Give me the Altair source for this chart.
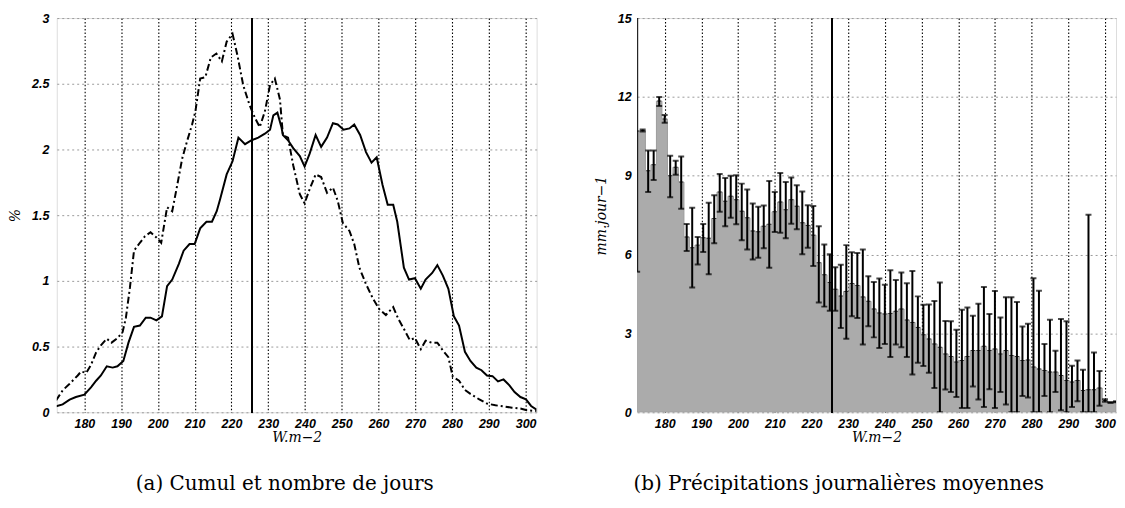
import altair as alt
import pandas as pd

X_DOMAIN = [172.5, 303]
X_TICKS = [180, 190, 200, 210, 220, 230, 240, 250, 260, 270, 280, 290, 300]
Y_TICKS_A = [0, 0.5, 1, 1.5, 2, 2.5, 3]
Y_TICKS_B = [0, 3, 6, 9, 12, 15]
THRESHOLD = 225.5

# ---- panel (a): cumul (solid) and nombre de jours (dash-dot), in %
solid_x = [172.3, 174.1, 176.0, 177.7, 180.0, 181.8, 183.2, 184.5, 186.1, 187.7, 189.0, 190.6, 192.0,
           193.5, 195.1, 196.7, 198.0, 199.6, 201.1, 202.5, 203.9, 205.7, 207.0, 208.6, 210.0, 211.5,
           213.2, 214.7, 216.0, 216.9, 218.7, 220.3, 221.9, 223.7, 225.5, 227.3, 229.1, 230.5, 231.4,
           232.5, 233.6, 234.0, 235.4, 236.8, 238.6, 239.9, 241.3, 242.9, 244.4, 246.0, 247.6, 248.9,
           250.5, 252.1, 253.4, 255.0, 256.6, 258.1, 259.5, 261.1, 262.5, 264.0, 265.1, 266.9, 268.3,
           269.9, 271.5, 272.8, 274.6, 276.0, 277.5, 279.0, 280.5, 281.9, 283.5, 285.0, 286.6, 288.0,
           289.5, 291.0, 292.5, 294.0, 295.6, 297.0, 298.6, 300.1, 301.5, 303.0]
solid_y = [0.045, 0.06, 0.096, 0.116, 0.134, 0.19, 0.24, 0.28, 0.35, 0.34, 0.35, 0.39, 0.53,
           0.65, 0.66, 0.72, 0.72, 0.70, 0.73, 0.96, 1.01, 1.13, 1.23, 1.28, 1.28, 1.40,
           1.45, 1.45, 1.53, 1.62, 1.81, 1.91, 2.09, 2.04, 2.07, 2.09, 2.12, 2.15, 2.26,
           2.28, 2.17, 2.11, 2.07, 2.01, 1.95, 1.87, 1.97, 2.11, 2.02, 2.09, 2.20, 2.19,
           2.15, 2.16, 2.19, 2.11, 1.98, 1.90, 1.94, 1.73, 1.58, 1.58, 1.45, 1.10, 1.01,
           1.02, 0.94, 1.01, 1.06, 1.12, 1.04, 0.94, 0.73, 0.66, 0.46, 0.39, 0.34, 0.32,
           0.28, 0.275, 0.235, 0.25, 0.205, 0.154, 0.116, 0.098, 0.048, 0.02]

dash_x = [172.3, 174.1, 176.0, 178.2, 179.1, 180.5, 181.8, 183.2, 184.5, 186.1, 187.4, 189.0, 190.4,
          191.3, 192.4, 193.5, 195.1, 196.5, 198.0, 199.6, 200.9, 202.5, 203.9, 205.2, 206.6, 207.9,
          209.3, 210.2, 211.5, 212.9, 214.4, 215.9, 217.4, 218.7, 220.3, 221.6, 223.2, 224.9, 226.4,
          227.7, 229.1, 230.5, 231.8, 233.2, 234.0, 235.4, 236.8, 238.6, 239.9, 241.3, 242.9, 244.4,
          246.0, 247.6, 248.9, 250.3, 252.1, 253.4, 254.8, 256.6, 258.4, 260.2, 262.0, 264.0, 265.4,
          267.0, 268.5, 269.9, 271.5, 272.8, 274.4, 276.0, 277.5, 279.0, 280.2, 281.9, 283.5, 285.0,
          287.3, 289.5, 291.8, 294.0, 296.3, 298.6, 300.3, 303.0]
dash_y = [0.09, 0.167, 0.217, 0.28, 0.31, 0.30, 0.36, 0.455, 0.51, 0.56, 0.53, 0.565, 0.61,
          0.72, 0.95, 1.23, 1.29, 1.34, 1.37, 1.33, 1.29, 1.56, 1.53, 1.72, 1.93, 2.06,
          2.19, 2.29, 2.54, 2.55, 2.70, 2.73, 2.67, 2.82, 2.88, 2.72, 2.49, 2.34, 2.24,
          2.17, 2.29, 2.49, 2.54, 2.38, 2.11, 2.09, 1.88, 1.66, 1.59, 1.70, 1.81, 1.79,
          1.67, 1.71, 1.61, 1.44, 1.38, 1.28, 1.10, 0.975, 0.87, 0.785, 0.74, 0.80, 0.71,
          0.63, 0.55, 0.565, 0.48, 0.545, 0.53, 0.53, 0.47, 0.42, 0.27, 0.24, 0.17, 0.14,
          0.10, 0.066, 0.053, 0.045, 0.035, 0.028, 0.015, 0.01]

# ---- panel (b): mean daily precipitation per class (mm/jour) with error bars
bin_center = [172.5, 174.0, 175.5, 177.0, 178.5, 180.0, 181.5, 183.0, 184.5, 186.0, 187.5, 189.0,
              190.5, 192.0, 193.5, 195.0, 196.5, 198.0, 199.5, 201.0, 202.5, 204.0, 205.5, 207.0,
              208.5, 210.0, 211.5, 213.0, 214.5, 216.0, 217.5, 219.0, 220.5, 222.0, 223.5, 225.0,
              226.5, 228.0, 229.5, 231.0, 232.5, 234.0, 235.5, 237.0, 238.5, 240.0, 241.5, 243.0,
              244.5, 246.0, 247.5, 249.0, 250.5, 252.0, 253.5, 255.0, 256.5, 258.0, 259.5, 261.0,
              262.5, 264.0, 265.5, 267.0, 268.5, 270.0, 271.5, 273.0, 274.5, 276.0, 277.5, 279.0,
              280.5, 282.0, 283.5, 285.0, 286.5, 288.0, 289.5, 291.0, 292.5, 294.0, 295.5, 297.0,
              298.5, 300.0, 301.5, 303.0]
precip_mean = [10.70, 10.72, 9.19, 9.42, 11.84, 11.16, 9.00, 9.32, 8.76, 6.67, 6.26, 6.36,
               6.64, 6.62, 7.37, 8.38, 8.03, 8.22, 8.09, 7.65, 7.40, 6.90, 6.87, 7.08,
               7.15, 7.63, 8.00, 7.71, 8.09, 7.84, 7.21, 7.11, 6.74, 5.69, 5.23, 4.94,
               4.68, 4.42, 4.60, 4.90, 4.82, 4.39, 4.22, 3.93, 3.78, 3.74, 3.76, 3.84,
               3.93, 3.51, 3.42, 3.23, 2.95, 2.79, 2.60, 2.47, 2.22, 2.12, 1.91, 1.97,
               2.12, 2.35, 2.35, 2.51, 2.35, 2.41, 2.22, 2.35, 2.16, 2.12, 1.97, 1.99,
               1.72, 1.65, 1.59, 1.53, 1.53, 1.40, 1.21, 1.15, 1.21, 0.83, 0.86, 0.86,
               0.92, 0.45, 0.37, 0.40]
precip_lo = [5.35, 10.68, 8.38, 8.84, 11.65, 11.02, 8.18, 9.04, 7.74, 6.14, 4.75, 5.62,
             6.10, 5.25, 6.43, 7.63, 7.08, 7.40, 7.15, 6.55, 6.19, 5.81, 5.88, 6.24,
             5.50, 6.86, 6.83, 6.62, 7.17, 6.96, 6.01, 6.26, 5.57, 4.18, 4.02, 3.86,
             3.86, 3.21, 2.80, 3.65, 3.59, 2.58, 3.27, 2.85, 2.45, 2.60, 2.10, 2.58,
             2.47, 2.10, 1.44, 1.88, 1.76, 1.50, 0.92, 0.00, 0.87, 0.77, 0.58, 0.16,
             0.16, 0.98, 0.49, 0.20, 0.88, 0.16, 0.77, 0.30, 0.00, 0.00, 0.62, 0.56,
             0.00, 0.00, 0.62, 0.00, 0.77, 0.08, 0.00, 0.20, 0.42, 0.00, 0.00, 0.00,
             0.25, 0.40, 0.35, 0.38]
precip_hi = [16.05, 10.76, 9.96, 9.96, 12.00, 11.31, 9.76, 9.57, 9.73, 7.16, 7.78, 6.67,
             7.16, 7.97, 8.26, 9.07, 8.91, 9.00, 9.02, 8.70, 8.48, 7.94, 7.82, 7.87,
             8.80, 8.38, 9.10, 8.76, 8.93, 8.64, 8.40, 7.88, 7.85, 7.08, 6.38, 6.01,
             5.52, 5.61, 6.36, 6.09, 6.06, 6.19, 5.18, 4.96, 5.09, 4.85, 5.40, 5.03,
             5.32, 4.91, 5.38, 4.41, 4.09, 4.10, 4.23, 4.94, 3.47, 3.46, 3.14, 3.90,
             3.99, 3.67, 4.13, 4.77, 3.74, 4.61, 3.61, 4.38, 4.38, 4.20, 3.26, 3.37,
             5.10, 4.62, 2.60, 3.52, 2.34, 3.55, 3.46, 1.77, 1.97, 1.62, 7.52, 2.27,
             1.57, 0.50, 0.39, 0.42]

W, H = 482, 396
LABEL_FONT = "Liberation Sans"
TITLE_FONT = "DejaVu Serif"

df_solid = pd.DataFrame({"x": solid_x, "y": solid_y})
df_dash = pd.DataFrame({"x": dash_x, "y": dash_y})
df_b = pd.DataFrame({"x": bin_center, "mean": precip_mean, "lo": precip_lo, "hi": precip_hi})


def x_axis():
    return alt.Axis(values=X_TICKS, title="W.m\u22122", grid=True, gridColor="black",
                    gridDash=[1.5, 2], gridWidth=1.1, gridOpacity=1, ticks=False, domain=False,
                    labelFont=LABEL_FONT, labelFontWeight="bold", labelFontStyle="italic",
                    labelFontSize=12.5, labelColor="black", labelPadding=5, labelOverlap=False,
                    titleFont=TITLE_FONT, titleFontStyle="italic", titleFontWeight="normal",
                    titleFontSize=14, titleColor="black", titlePadding=1)


def y_axis(values, title, pad):
    return alt.Axis(values=values, format="~g", title=title, grid=True, gridColor="#9a9a9a",
                    gridDash=[2, 3], gridWidth=1, ticks=False, domain=False,
                    labelFont=LABEL_FONT, labelFontWeight="bold", labelFontStyle="italic",
                    labelFontSize=12.5, labelColor="black", labelPadding=pad, labelOverlap=False,
                    titleFont=TITLE_FONT, titleFontStyle="italic", titleFontWeight="normal",
                    titleFontSize=14, titleColor="black", titlePadding=9)


xs = alt.Scale(domain=X_DOMAIN, nice=False, zero=False)
ys_a = alt.Scale(domain=[0, 3], nice=False)
ys_b = alt.Scale(domain=[0, 15], nice=False)

line_solid = alt.Chart(df_solid).mark_line(color="black", strokeWidth=2, clip=True).encode(
    x=alt.X("x:Q", scale=xs, axis=x_axis()),
    y=alt.Y("y:Q", scale=ys_a, axis=y_axis(Y_TICKS_A, "%", 8)),
)
line_dash = alt.Chart(df_dash).mark_line(color="black", strokeWidth=2, strokeDash=[7, 3, 2, 3],
                                         clip=True).encode(
    x=alt.X("x:Q", scale=xs),
    y=alt.Y("y:Q", scale=ys_a),
)
vline_a = alt.Chart(df_solid).mark_rule(color="black", strokeWidth=1.1).encode(
    x=alt.datum(THRESHOLD)
)

panel_a = alt.layer(line_solid, line_dash, vline_a).properties(
    width=W, height=H,
    title=alt.TitleParams("(a) Cumul et nombre de jours", orient="bottom", anchor="middle",
                          font=TITLE_FONT, fontSize=20, fontWeight="normal", color="black",
                          offset=30, dx=-12),
)

base_b = alt.Chart(df_b)
area_b = base_b.mark_area(color="#ababab", interpolate="step", clip=True,
                          stroke="#9c9c9c", strokeWidth=1).encode(
    x=alt.X("x:Q", scale=xs, axis=x_axis()),
    y=alt.Y("mean:Q", scale=ys_b, axis=y_axis(Y_TICKS_B, "mm.jour\u22121", 6)),
)
err_b = base_b.mark_rule(color="black", strokeWidth=2, clip=True).encode(
    x=alt.X("x:Q", scale=xs), y=alt.Y("lo:Q", scale=ys_b), y2="hi:Q"
)
cap_lo = base_b.mark_tick(color="black", orient="horizontal", size=6, thickness=2, clip=True).encode(
    x=alt.X("x:Q", scale=xs), y=alt.Y("lo:Q", scale=ys_b)
)
cap_hi = base_b.mark_tick(color="black", orient="horizontal", size=6, thickness=2, clip=True).encode(
    x=alt.X("x:Q", scale=xs), y=alt.Y("hi:Q", scale=ys_b)
)
cap_mid = base_b.mark_tick(color="black", orient="horizontal", size=4, thickness=1, clip=True).encode(
    x=alt.X("x:Q", scale=xs), y=alt.Y("mean:Q", scale=ys_b)
)
vline_b = base_b.mark_rule(color="black", strokeWidth=1.1).encode(x=alt.datum(THRESHOLD))

panel_b = alt.layer(area_b, err_b, cap_lo, cap_hi, cap_mid, vline_b).properties(
    width=481, height=H,
    title=alt.TitleParams("(b) Pr\u00e9cipitations journali\u00e8res moyennes", orient="bottom",
                          anchor="middle", font=TITLE_FONT, fontSize=20, fontWeight="normal",
                          color="black", offset=30, dx=-38),
)

chart = alt.hconcat(panel_a, panel_b, spacing=101, bounds="flush").properties(
    padding={"left": 0, "top": 2, "right": 0, "bottom": 0},
).configure_view(stroke="black", strokeWidth=1.2).configure(background="white")

chart.save("out.html", embed_options={"renderer": "svg", "actions": False})
